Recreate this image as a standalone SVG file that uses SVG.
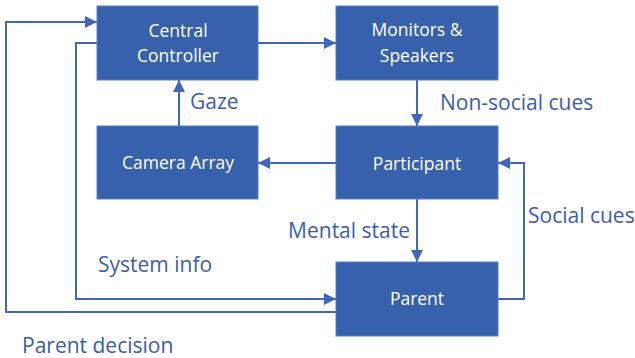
<svg xmlns="http://www.w3.org/2000/svg" width="635" height="358" viewBox="0 0 635 358">
  <style>
    .box { fill: #3760ad; stroke: #5a7fc4; stroke-width: 1; }
    .btxt { fill: #ffffff; font-family: "Open Sans", "Noto Sans", sans-serif; font-size: 17.5px; text-anchor: middle; }
    .lbl { fill: #3b5cab; font-family: "Open Sans", "Noto Sans", sans-serif; font-size: 21px; }
    .wire { fill: none; stroke: #4066b4; stroke-width: 2; }
  </style>
  <defs>
    <marker id="arrow" viewBox="0 0 10 10" refX="10" refY="5" markerWidth="12" markerHeight="12" markerUnits="userSpaceOnUse" orient="auto">
      <path d="M0,0 L10,5 L0,10 z" fill="#4066b4"/>
    </marker>
  </defs>
  <rect width="635" height="358" fill="#ffffff"/>

  <g id="connectors">
    <path class="wire" d="M258,43 H336" marker-end="url(#arrow)"/>
    <path class="wire" d="M417,80 V126" marker-end="url(#arrow)"/>
    <path class="wire" d="M179,126 V80" marker-end="url(#arrow)"/>
    <path class="wire" d="M336,163 H258" marker-end="url(#arrow)"/>
    <path class="wire" d="M417,199 V262" marker-end="url(#arrow)"/>
    <path class="wire" d="M498,299 H524 V163 H498" marker-end="url(#arrow)"/>
    <path class="wire" d="M97,43 H76 V299 H336" marker-end="url(#arrow)"/>
    <path class="wire" d="M336,312 H6 V22 H97" marker-end="url(#arrow)"/>
  </g>

  <g id="central-controller">
    <rect class="box" x="97" y="6" width="161" height="74"/>
    <text class="btxt" x="178" y="37">Central</text>
    <text class="btxt" x="178" y="62">Controller</text>
  </g>
  <g id="monitors-speakers">
    <rect class="box" x="336" y="6" width="162" height="74"/>
    <text class="btxt" x="417" y="36">Monitors &amp;</text>
    <text class="btxt" x="417" y="62">Speakers</text>
  </g>
  <g id="camera-array">
    <rect class="box" x="97" y="126" width="161" height="73"/>
    <text class="btxt" x="178" y="169">Camera Array</text>
  </g>
  <g id="participant">
    <rect class="box" x="336" y="126" width="162" height="73"/>
    <text class="btxt" x="417" y="170">Participant</text>
  </g>
  <g id="parent">
    <rect class="box" x="336" y="262" width="162" height="74"/>
    <text class="btxt" x="417" y="305">Parent</text>
  </g>

  <g id="labels">
    <text class="lbl" x="190" y="109">Gaze</text>
    <text class="lbl" x="440" y="110">Non-social cues</text>
    <text class="lbl" x="528" y="223">Social cues</text>
    <text class="lbl" x="410" y="238" text-anchor="end">Mental state</text>
    <text class="lbl" x="98" y="272">System info</text>
    <text class="lbl" x="22" y="353">Parent decision</text>
  </g>
</svg>
